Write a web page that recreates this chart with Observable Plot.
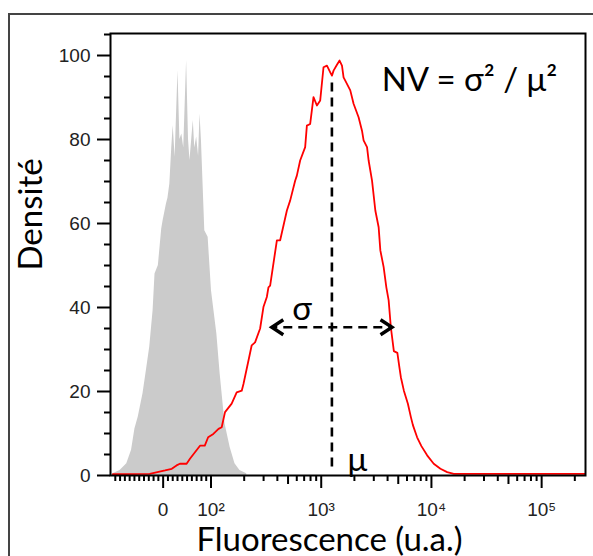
<!DOCTYPE html>
<html><head><meta charset="utf-8">
<script src="https://cdn.jsdelivr.net/npm/d3@7"></script>
<script src="https://cdn.jsdelivr.net/npm/@observablehq/plot@0.6"></script>
<style>
body{margin:0;background:#fff;}
#wrap{position:relative;width:593px;height:556px;overflow:hidden;}
#wrap svg{position:absolute;left:0;top:0;}
#outer{position:absolute;left:8px;top:13px;width:640px;height:640px;border:2px solid #444;box-sizing:border-box;pointer-events:none;}
</style></head><body><div id="wrap"><div id="outer"></div></div>
<script>
// Red histogram (stained cells): fluorescence (a.u.) and density
const redX = [-105, -28, 4, 18, 28, 35, 49, 56, 77, 87, 94, 105, 117, 125, 134, 154, 171, 190, 197, 218, 234, 251, 279, 299, 321, 332, 344, 396, 424, 488, 523, 580, 601, 644, 715, 741, 794, 851, 914, 979, 1049, 1127, 1207, 1251, 1294, 1389, 1467, 1543, 1595, 1653, 1835, 1966, 2183, 2344, 2424, 2604, 2692, 2891, 3097, 3319, 3439, 3685, 3898, 4091, 4283, 4561, 4908, 5118, 5280, 5623, 6114, 6510, 6790, 7413, 8112, 9140, 10490, 12070, 13890, 15950, 250000];
const redY = [0.3, 0.4, 1.2, 1.6, 2.4, 2.8, 2.8, 4.0, 7.1, 7.1, 9.1, 9.9, 11.1, 11.5, 15.1, 17.1, 19.8, 20.2, 21.8, 27.2, 31.0, 31.7, 35.0, 40.1, 42.5, 44.8, 45.2, 56.0, 56.0, 63.1, 65.5, 70.2, 71.4, 75.0, 78.2, 83.3, 83.7, 90.1, 88.1, 89.3, 97.2, 97.6, 96.0, 95.2, 96.4, 97.8, 98.8, 97.6, 94.8, 94.0, 91.7, 88.5, 85.3, 82.1, 79.8, 78.2, 75.0, 70.2, 63.1, 59.1, 53.6, 49.6, 44.8, 41.7, 35.3, 29.6, 29.2, 25.8, 23.4, 20.2, 17.1, 13.9, 12.0, 9.1, 7.0, 4.8, 2.8, 1.6, 0.8, 0.4, 0.4];
// Grey histogram (control)
const grayX = [-105, -90, -76, -66, -59, -52, -42, -35, -28, -21, -17, -10, -3, 0, 7, 10, 14, 18, 21, 25, 31, 35, 39, 43, 49, 53, 56, 63, 66, 70, 74, 77, 80, 87, 94, 101, 113, 121, 134, 149, 165, 183, 211];
const grayY = [0.4, 1.2, 2.8, 6.0, 11.1, 13.9, 19.5, 25.0, 30.6, 39.3, 48.0, 50.0, 58.7, 60.7, 64.7, 66, 69.4, 78.1, 83.3, 75.8, 96.4, 80, 81.3, 78, 98.8, 80, 75.0, 84.5, 78, 80.6, 76, 86.1, 79.8, 58.3, 56.7, 44.0, 33.7, 24.2, 12.3, 6.7, 2.8, 1.2, 0.4];
// Axes
const xDomain = [-110, 250000];
const yDomain = [0, 105.24];
const yMajor = [0, 20, 40, 60, 80, 100];
const yMinor = [5, 10, 15, 25, 30, 35, 45, 50, 55, 65, 70, 75, 85, 90, 95, 105];
const xMajor = [0, 100, 1000, 10000, 100000];
const xMajorLabels = ["0", "10²", "10³", "10⁴", "10⁵"];
const xMedium = [500, 5000, 50000];
const xMinor = [-100, -90, -80, -70, -60, -50, -40, -30, -20, -10, 10, 20, 30, 40, 50, 60, 70, 80, 90,
  200, 300, 400, 600, 700, 800, 900, 2000, 3000, 4000, 6000, 7000, 8000, 9000,
  20000, 30000, 40000, 60000, 70000, 80000, 90000, 200000];
// Annotations
const mu = 1250, muTop = 94, muBottom = 2;
const sigmaLo = 356, sigmaHi = 4390, sigmaLevel = 35.3;
const labelNV = "NV = σ² / μ²", posNV = [22150, 94];
const labelSigma = "σ", posSigma = [672, 39.5];
const labelMu = "μ", posMu = [2124, 3.6];
const xTitle = "Fluorescence (u.a.)", yTitle = "Densité";

// biexponential-like display transform (linear below 100, log above), in decades
const T = v => v < 100 ? 2 + (v - 100) / (100 * Math.LN10) : Math.log10(v);

const red = redX.map((v, i) => ({x: v, y: redY[i]}));
const gray = grayX.map((v, i) => ({x: v, y: grayY[i]}));
const labelMap = new Map(xMajor.map((v, i) => [T(v), xMajorLabels[i]]));

const chevron = {draw(ctx) { ctx.moveTo(-11.5, -7.5); ctx.lineTo(0, 0); ctx.lineTo(-11.5, 7.5); }};
const textFont = "Lato";
const tickFontSize = 19;

const plot = Plot.plot({
  width: 593, height: 556,
  marginLeft: 110, marginRight: 8, marginTop: 33, marginBottom: 81,
  style: {background: "transparent", fontFamily: "Liberation Sans", color: "#1a1a1a", overflow: "visible"},
  x: {type: "linear", domain: xDomain.map(T), axis: null},
  y: {domain: yDomain, axis: null},
  marks: [
    Plot.areaY(gray, {x: d => T(d.x), y: "y", fill: "#cbcbcb", curve: "linear", clip: true}),
    Plot.line(red, {x: d => T(d.x), y: "y", stroke: "#ff0000", strokeWidth: 1.8, clip: true}),
    Plot.ruleX([mu], {x: T, y1: muBottom, y2: muTop, stroke: "#000", strokeWidth: 2.6, strokeDasharray: "9,6"}),
    Plot.ruleY([sigmaLevel], {x1: T(sigmaLo), x2: T(sigmaHi), y: d => d, stroke: "#000", strokeWidth: 2.6, strokeDasharray: "9,6", strokeDashoffset: -12}),
    Plot.dot([{x: sigmaLo, r: 180}, {x: sigmaHi, r: 0}], {x: d => T(d.x), y: () => sigmaLevel, rotate: "r", symbol: chevron, fill: "none", stroke: "#000", strokeWidth: 3.4, strokeLinejoin: "miter"}),
    Plot.text([labelSigma], {x: T(posSigma[0]), y: posSigma[1], text: d => d, fontFamily: textFont, fontSize: 33, fill: "#000"}),
    Plot.text([labelMu], {x: T(posMu[0]), y: posMu[1], text: d => d, fontFamily: textFont, fontSize: 33, fill: "#000"}),
    Plot.text([labelNV], {x: T(posNV[0]), y: posNV[1], text: d => d, fontFamily: textFont, fontSize: 33, fill: "#000"}),
    Plot.frame({stroke: "#000", strokeWidth: 2}),
    Plot.axisY(yMajor, {tickSize: 13, tickPadding: 7, strokeWidth: 2, stroke: "#000", label: null}),
    Plot.axisY(yMinor.filter(v => v <= yDomain[1]), {tickSize: 6, tickFormat: () => "", strokeWidth: 2, stroke: "#000", label: null}),
    Plot.axisX(xMajor.map(T), {tickSize: 13, tickPadding: 14, tickFormat: d => labelMap.get(d), strokeWidth: 2, stroke: "#000", label: null}),
    Plot.axisX(xMedium.map(T), {tickSize: 9, tickFormat: () => "", strokeWidth: 2, stroke: "#000", label: null}),
    Plot.axisX(xMinor.map(T), {tickSize: 6, tickFormat: () => "", strokeWidth: 2, stroke: "#000", label: null}),
    Plot.text([yTitle], {frameAnchor: "left", dx: -79, dy: 16, rotate: -90, text: d => d, fontFamily: textFont, fontSize: 33, fill: "#000"}),
    Plot.text([xTitle], {frameAnchor: "bottom", dx: -18.5, dy: 75, lineAnchor: "bottom", text: d => d, fontFamily: textFont, fontSize: 33, fill: "#000"})
  ]
});

document.getElementById("wrap").insertBefore(plot, document.getElementById("outer"));

// tick label styling: Arial-like labels; drop the empty labels of unlabelled minor ticks
plot.querySelectorAll('g[aria-label$="tick label"]').forEach(g => {
  g.setAttribute("font-size", String(tickFontSize));
  g.setAttribute("font-family", "Liberation Sans");
  g.setAttribute("fill", "#222");
  g.querySelectorAll("text").forEach(t => {
    if (t.textContent.trim() === "") t.remove();
    else t.style.fontSize = tickFontSize + "px";
  });
  if (!g.querySelector("text")) g.remove();
});
</script></body></html>
